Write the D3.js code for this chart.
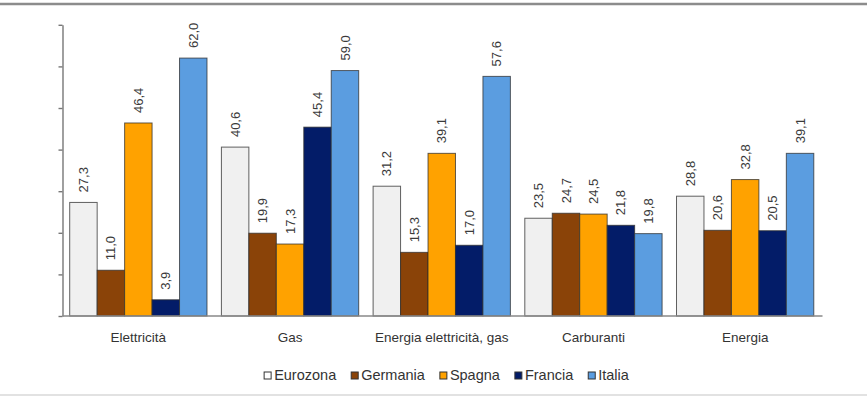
<!DOCTYPE html>
<html>
<head>
<meta charset="utf-8">
<script src="https://cdn.jsdelivr.net/npm/d3@7"></script>
<style>
  html, body { margin: 0; padding: 0; background: #ffffff; }
  svg { display: block; font-family: "Liberation Sans", Arial, sans-serif; }
</style>
</head>
<body>
<svg id="chart" width="867" height="398"></svg>
<script>
// Categories along the x axis
const categories = ["Elettricità", "Gas", "Energia elettricità, gas", "Carburanti", "Energia"];

// Series names (legend order) and their values per category
const seriesNames = ["Eurozona", "Germania", "Spagna", "Francia", "Italia"];
const eurozona = [27.3, 40.6, 31.2, 23.5, 28.8];
const germania = [11.0, 19.9, 15.3, 24.7, 20.6];
const spagna   = [46.4, 17.3, 39.1, 24.5, 32.8];
const francia  = [3.9, 45.4, 17.0, 21.8, 20.5];
const italia   = [62.0, 59.0, 57.6, 19.8, 39.1];

// Y axis ticks (unlabelled)
const yTicks = [0, 10, 20, 30, 40, 50, 60, 70];

const seriesValues = [eurozona, germania, spagna, francia, italia];
const seriesColors = ["#f0f0f0", "#8a4308", "#ffa200", "#031c68", "#5b9de0"];

const svg = d3.select("#chart");
const W = 867, H = 398;

// Frame lines at top and bottom
svg.append("line").attr("x1", 0).attr("x2", W).attr("y1", 4).attr("y2", 4)
  .attr("stroke", "#8c8c8c").attr("stroke-width", 2.5);
svg.append("line").attr("x1", 0).attr("x2", W).attr("y1", 395).attr("y2", 395)
  .attr("stroke", "#e2e2e2").attr("stroke-width", 2);

const plot = { left: 62.5, right: 821, top: 24.8, bottom: 316 };

const x0 = d3.scaleBand()
  .domain(categories)
  .range([plot.left, plot.right])
  .paddingInner(0.095)
  .paddingOuter(0.0475);

const x1 = d3.scaleBand()
  .domain(seriesNames)
  .range([0, x0.bandwidth()])
  .padding(0);

const y = d3.scaleLinear().domain([0, 70]).range([plot.bottom, plot.top]);

const fmt = v => d3.format(".1f")(v).replace(".", ",");

// Bars
const rows = categories.map((c, ci) => ({
  category: c,
  items: seriesNames.map((s, si) => ({ series: s, si, value: seriesValues[si][ci] }))
}));

const groups = svg.append("g").selectAll("g")
  .data(rows).join("g")
  .attr("transform", d => `translate(${x0(d.category)},0)`);

groups.selectAll("rect")
  .data(d => d.items).join("rect")
  .attr("x", d => x1(d.series))
  .attr("y", d => y(d.value))
  .attr("width", x1.bandwidth())
  .attr("height", d => y(0) - y(d.value))
  .attr("fill", d => seriesColors[d.si])
  .attr("stroke", "#2e2e2e")
  .attr("stroke-opacity", 0.75)
  .attr("stroke-width", 1);

// Value labels, rotated
groups.selectAll("text.val")
  .data(d => d.items).join("text")
  .attr("class", "val")
  .attr("transform", d => `translate(${x1(d.series) + x1.bandwidth() / 2},${y(d.value) - 10}) rotate(-90)`)
  .attr("dy", "0.35em")
  .attr("text-anchor", "start")
  .attr("font-size", 13)
  .attr("fill", "#3a3a3a")
  .text(d => fmt(d.value));

// Y axis (ticks only)
const yAxis = svg.append("g")
  .attr("transform", `translate(${plot.left},0)`)
  .call(d3.axisLeft(y).tickValues(yTicks).tickFormat("").tickSize(4).tickSizeOuter(0));
yAxis.selectAll("path, line").attr("stroke", "#777").attr("stroke-width", 1.4);

// X axis baseline and category labels
const xAxis = svg.append("g")
  .attr("transform", `translate(0,${plot.bottom})`)
  .call(d3.axisBottom(x0).tickSize(0).tickSizeOuter(0).tickPadding(16));
xAxis.select("path.domain")
  .attr("d", `M${plot.left},0H${plot.right + 1.5}`)
  .attr("stroke", "#888").attr("stroke-width", 1.4);
xAxis.selectAll("text")
  .attr("font-size", 13.5)
  .attr("font-family", "'Liberation Sans', Arial, sans-serif")
  .attr("fill", "#333");

// Legend
const legend = svg.append("g");
const swatch = 7, gapText = 3, gapItem = 15;
const items = legend.selectAll("g").data(seriesNames).join("g");
items.append("rect")
  .attr("width", swatch).attr("height", swatch)
  .attr("y", -swatch / 2 - 4.5)
  .attr("fill", (d, i) => i === 0 ? "#ffffff" : seriesColors[i])
  .attr("stroke", "#333").attr("stroke-width", 1);
items.append("text")
  .attr("x", swatch + gapText)
  .attr("font-size", 14.5)
  .attr("fill", "#333")
  .text(d => d);

let cursor = 0;
const widths = [];
items.each(function () {
  const tw = d3.select(this).select("text").node().getComputedTextLength();
  widths.push(swatch + gapText + tw);
});
const total = d3.sum(widths) + gapItem * (widths.length - 1);
const start = 446.5 - total / 2;
items.attr("transform", (d, i) => {
  const xx = start + cursor;
  cursor += widths[i] + gapItem;
  return `translate(${xx},380)`;
});
</script>
</body>
</html>
